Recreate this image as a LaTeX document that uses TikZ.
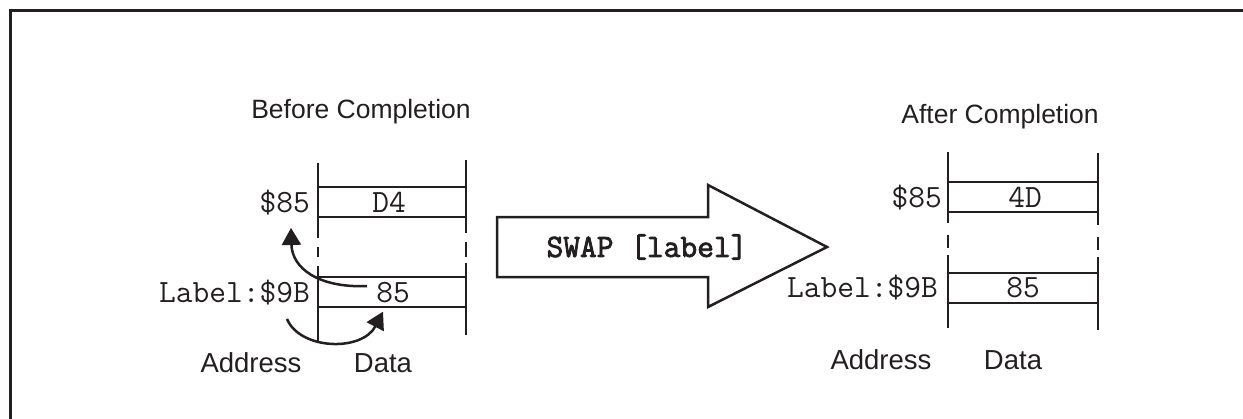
\documentclass[tikz,border=0pt]{standalone}
\usepackage{fontspec}
\setmainfont{Liberation Sans}
\newfontfamily\swapfont{Latin Modern Mono}[FakeBold=2.5]
\usetikzlibrary{arrows.meta}
\definecolor{ink}{RGB}{35,31,32}
\begin{document}
\begin{tikzpicture}[x=1pt,y=-1pt,line width=2.5pt,color=ink,
  sanslbl/.style={font=\fontsize{27.5}{30}\selectfont,text=ink,inner sep=0pt},
  headlbl/.style={font=\fontsize{26.5}{30}\selectfont,text=ink,inner sep=0pt},
  monolbl/.style={font=\ttfamily\fontsize{32.5}{34}\selectfont,text=ink,inner sep=0pt},
  swaplbl/.style={font=\swapfont\fontsize{32.5}{34}\selectfont,text=ink,inner sep=0pt},
  memline/.style={draw=ink,line width=2.5pt},
  bigarrow/.style={draw=ink,line width=2.5pt,line join=miter},
  curvearrow/.style={draw=ink,line width=2.5pt,-{Triangle[length=17pt,width=19pt]}}]
\useasboundingbox (0,0) rectangle (1243,418);
% outer frame (only top and left edges are inside the picture)
\draw[line width=3pt] (1300,10) -- (10,10) -- (10,460);

% ---------- Before completion ----------
\node[headlbl,anchor=base west] (before) at (250,118) {Before Completion};
% vertical lines
\draw[memline] (318,163) -- (318,238);
\draw[memline] (318,247) -- (318,257);
\draw[memline] (318,266) -- (318,342);
\draw[memline] (466,160) -- (466,233);
\draw[memline] (466,242) -- (466,257);
\draw[memline] (466,263) -- (466,335);
% cells
\draw[memline] (318,187) -- (466,187);
\draw[memline] (318,217) -- (466,217);
\draw[memline] (318,277) -- (466,277);
\draw[memline] (318,307) -- (466,307);
\node[monolbl,anchor=base] (bd4) at (389,212) {D4};
\node[monolbl,anchor=base] (b85) at (393,302) {85};
\node[monolbl,anchor=base east] (ba85) at (311,212) {\$85};
\node[monolbl,anchor=base east] (blbl) at (311,302) {Label:\$9B};
\node[sanslbl,anchor=base] (baddr) at (251,372) {Address};
\node[sanslbl,anchor=base] (bdata) at (383,372) {Data};
% curved arrows
\coordinate (s1) at ([xshift=-8pt,yshift=6pt]b85.west);
\coordinate (t1) at ([xshift=-20pt,yshift=-12pt]ba85.south east);
\draw[curvearrow] (s1) .. controls (318,288) and (292,268) .. (t1);
\coordinate (s2) at ([xshift=-24pt,yshift=-13pt]blbl.south east);
\coordinate (t2) at ([xshift=-10pt,yshift=-8pt]b85.south);
\draw[curvearrow] (s2) .. controls (300,350) and (362,352) .. (t2);

% ---------- Big arrow ----------
\draw[bigarrow] (497,217) -- (708,217) -- (708,185) -- (827,247) -- (708,307) -- (708,277) -- (497,277) -- cycle;
\node[swaplbl] (swap) at (647,247) {SWAP [label]};

% ---------- After completion ----------
\node[headlbl,anchor=base east] (after) at (1100,123) {After Completion};
\draw[memline] (948,152) -- (948,223);
\draw[memline] (948,235) -- (948,248);
\draw[memline] (948,255) -- (948,328);
\draw[memline] (1098,153) -- (1098,225);
\draw[memline] (1098,237) -- (1098,250);
\draw[memline] (1098,257) -- (1098,330);
\draw[memline] (948,182) -- (1098,182);
\draw[memline] (948,212) -- (1098,212);
\draw[memline] (948,273) -- (1098,273);
\draw[memline] (948,303) -- (1098,303);
\node[monolbl,anchor=base] (a4d) at (1025,207) {4D};
\node[monolbl,anchor=base] (a85) at (1023,297) {85};
\node[monolbl,anchor=base east] (aa85) at (943,207) {\$85};
\node[monolbl,anchor=base east] (albl) at (939,297) {Label:\$9B};
\node[sanslbl,anchor=base] (aaddr) at (881,369) {Address};
\node[sanslbl,anchor=base] (adata) at (1013,369) {Data};
\end{tikzpicture}
\end{document}
